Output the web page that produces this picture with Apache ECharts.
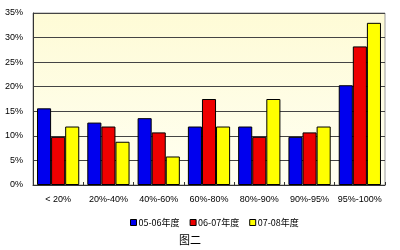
<!DOCTYPE html>
<html>
<head>
<meta charset="utf-8" />
<title>图二</title>
<script src="https://cdn.jsdelivr.net/npm/echarts@6/dist/echarts.min.js"></script>
<style>
  html, body { margin: 0; padding: 0; background: #fff; }
</style>
</head>
<body>
<div id="main" style="width: 400px;height:250px;"></div>
<script>
    var categories = ['< 20%', '20%-40%', '40%-60%', '60%-80%', '80%-90%', '90%-95%', '95%-100%'];
    var seriesNames = ['05-06年度', '06-07年度', '07-08年度'];
    var y0506 = [15.6, 12.7, 13.6, 11.9, 11.9, 9.8, 20.3];
    var y0607 = [9.8, 11.9, 10.7, 17.5, 9.8, 10.7, 28.2];
    var y0708 = [11.9, 8.8, 5.8, 11.9, 17.5, 11.9, 33.0];
    var colors = ['#0000ee', '#ee0000', '#ffff00'];

    var myChart = echarts.init(document.getElementById('main'));

    function bar(name, data, color) {
        return {
            name: name,
            type: 'bar',
            barGap: '0%',
            barCategoryGap: '16%',
            itemStyle: { color: color, borderColor: '#000', borderWidth: 1 },
            data: data
        };
    }

    var option = {
        animation: false,
        title: {
            text: '图二',
            left: 174,
            top: 229,
            textStyle: { fontSize: 11, fontWeight: 'normal', color: '#000', fontFamily: 'Noto Sans CJK SC' }
        },
        legend: {
            data: seriesNames,
            left: 125,
            top: 213,
            itemWidth: 6,
            itemHeight: 6,
            itemGap: 10,
            icon: 'rect',
            textStyle: { fontSize: 9, color: '#000', fontFamily: 'Noto Sans CJK SC', padding: [0, 0, 0, -3] },
            itemStyle: { borderColor: '#000', borderWidth: 1 }
        },
        grid: {
            left: 33, right: 15, top: 13, bottom: 65,
            show: true,
            backgroundColor: new echarts.graphic.LinearGradient(0, 0, 0, 1, [
                { offset: 0, color: '#fefbd6' },
                { offset: 1, color: '#fffff2' }
            ]),
            borderColor: '#9a9a9a',
            borderWidth: 1
        },
        xAxis: {
            type: 'category',
            data: categories,
            axisLine: { lineStyle: { color: '#333' } },
            axisTick: { show: true, inside: true, length: 3, lineStyle: { color: '#333' } },
            axisLabel: { fontSize: 9, color: '#000', margin: 10, interval: 0, fontFamily: 'Arial, Liberation Sans' }
        },
        yAxis: {
            type: 'value',
            min: 0,
            max: 35,
            interval: 5,
            axisLine: { show: true, lineStyle: { color: '#333' } },
            axisTick: { show: false },
            splitLine: { lineStyle: { color: '#444', width: 1 } },
            axisLabel: { fontSize: 9, color: '#000', margin: 10, formatter: '{value}%', fontFamily: 'Arial, Liberation Sans' }
        },
        series: [
            bar(seriesNames[0], y0506, colors[0]),
            bar(seriesNames[1], y0607, colors[1]),
            bar(seriesNames[2], y0708, colors[2])
        ]
    };

    myChart.setOption(option);
</script>
</body>
</html>
